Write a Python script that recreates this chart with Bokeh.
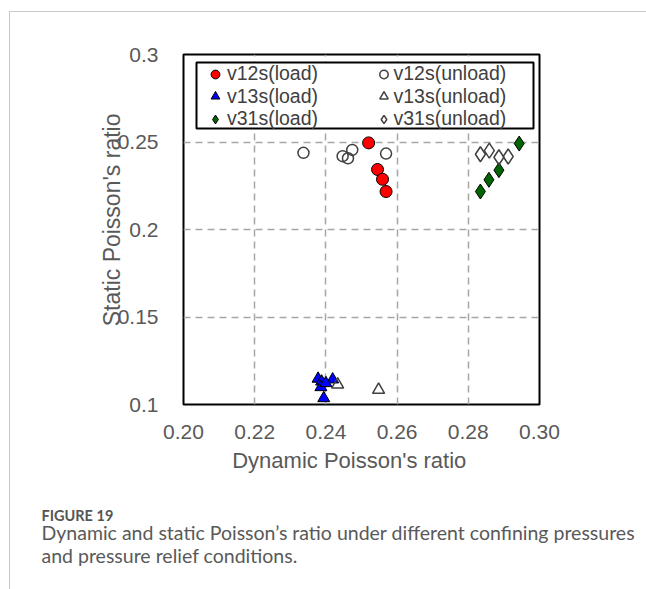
import numpy as np
from bokeh.plotting import figure
from bokeh.layouts import column
from bokeh.models import Legend, LegendItem, Title, FixedTicker, Range1d, BoxAnnotation
from bokeh.embed import file_html
from bokeh.resources import INLINE

# ---- data ----
v12_load_x = [0.2520, 0.2545, 0.2559, 0.2569]
v12_load_y = [0.2495, 0.2343, 0.2287, 0.2217]
v12_unload_x = [0.2337, 0.2447, 0.2462, 0.2474, 0.2569]
v12_unload_y = [0.2438, 0.2419, 0.2407, 0.2455, 0.2434]
v13_load_x = [0.2378, 0.2388, 0.2386, 0.2394, 0.2419, 0.2400]
v13_load_y = [0.1147, 0.1131, 0.1099, 0.1036, 0.1143, 0.1122]
v13_unload_x = [0.2433, 0.2548]
v13_unload_y = [0.1114, 0.1084]
v31_load_x = [0.2943, 0.2886, 0.2858, 0.2834]
v31_load_y = [0.2491, 0.2339, 0.2284, 0.2217]
v31_unload_x = [0.2834, 0.2859, 0.2886, 0.2912]
v31_unload_y = [0.2430, 0.2451, 0.2413, 0.2417]

x_ticks = [0.20, 0.22, 0.24, 0.26, 0.28, 0.30]
x_tick_labels = ["0.20", "0.22", "0.24", "0.26", "0.28", "0.30"]
y_ticks = [0.10, 0.15, 0.20, 0.25, 0.30]
y_tick_labels = ["0.1", "0.15", "0.2", "0.25", "0.3"]

x_title = "Dynamic Poisson's ratio"
y_title = "Static Poisson's ratio"
fig_num = "FIGURE 19"
caption_lines = ["Dynamic and static Poisson\u2019s ratio under different confining pressures",
                 "and pressure relief conditions."]

FONT = "Liberation Sans"
TXT = "#595959"
NBSP = "\u00a0"

W, H = 646, 589
OFF_X, OFF_Y = 10, 12          # card border offset (margin + 1px border)
PW, PH = W - OFF_X, H - OFF_Y
FL, FR, FT, FB = 183, 539, 54, 404   # frame edges in page pixels

p = figure(width=PW, height=PH, output_backend="svg", toolbar_location=None,
           x_range=Range1d(0.20, 0.30), y_range=Range1d(0.10, 0.30),
           min_border_left=FL - OFF_X, min_border_right=PW - (FR - OFF_X),
           min_border_top=FT - OFF_Y, min_border_bottom=(OFF_Y + PH) - FB)
p.background_fill_color = "white"
p.border_fill_color = "white"
p.outline_line_color = "black"
p.outline_line_width = 2

for ax, ticks, labels in ((p.xaxis[0], x_ticks, x_tick_labels), (p.yaxis[0], y_ticks, y_tick_labels)):
    ax.ticker = FixedTicker(ticks=ticks)
    ax.major_label_overrides = {t: l for t, l in zip(ticks, labels)}
    ax.axis_line_color = None
    ax.major_tick_line_color = None
    ax.minor_tick_line_color = None
    ax.major_label_text_font = FONT
    ax.major_label_text_font_size = "21px"
    ax.major_label_text_color = TXT
    ax.axis_label_text_font = FONT
    ax.axis_label_text_font_style = "normal"
    ax.axis_label_text_color = TXT
# non-breaking spaces nudge the titles off-centre the way the reference places them
p.xaxis.axis_label = x_title + NBSP * 4
p.yaxis.axis_label = NBSP * 3 + y_title
p.xaxis.axis_label_text_font_size = "22px"
p.yaxis.axis_label_text_font_size = "23px"
p.xaxis.major_label_standoff = 14
p.xaxis.axis_label_standoff = 6
p.yaxis.major_label_standoff = 19
p.yaxis.axis_label_standoff = -10

p.xgrid.ticker = FixedTicker(ticks=[0.22, 0.24, 0.26, 0.28])
p.ygrid.ticker = FixedTicker(ticks=[0.15, 0.20, 0.25])
for g in (p.xgrid[0], p.ygrid[0]):
    g.grid_line_color = "#a6a6a6"
    g.grid_line_dash = "7 5"
    g.grid_line_width = 1.5

r1 = p.scatter(v12_load_x, v12_load_y, marker="circle", size=12, fill_color="#ff0000", line_color="black", line_width=1)
r2 = p.scatter(v12_unload_x, v12_unload_y, marker="circle", size=11, fill_color="white", fill_alpha=0, line_color="#404040", line_width=1.5)
r3 = p.scatter(v13_load_x, v13_load_y, marker="triangle", size=12, fill_color="#0000ff", line_color="black", line_width=1)
r4 = p.scatter(v13_unload_x, v13_unload_y, marker="triangle", size=12, fill_color="white", fill_alpha=0, line_color="#404040", line_width=1.5)
r5 = p.scatter(v31_load_x, v31_load_y, marker="diamond", size=15, fill_color="#006400", line_color="black", line_width=1)
r6 = p.scatter(v31_unload_x, v31_unload_y, marker="diamond", size=15, fill_color="white", fill_alpha=0, line_color="#404040", line_width=1.5)

# legend frame (screen units relative to the plot frame)
p.add_layout(BoxAnnotation(left=196 - FL, right=533 - FL, top=FB - 62, bottom=FB - 128,
                           left_units="screen", right_units="screen", top_units="screen", bottom_units="screen",
                           fill_color="white", fill_alpha=1, line_color="black", line_alpha=1, line_width=2))

# one single-item legend per cell, so rows/columns sit where the reference has them
legend_cells = [
    ("v12s(load)", r1, 0, 0), ("v13s(load)", r3, 0, 1), ("v31s(load)", r5, 0, 2),
    ("v12s(unload)", r2, 1, 0), ("v13s(unload)", r4, 1, 1), ("v31s(unload)", r6, 1, 2),
]
row_centers = [72.5, 95.0, 117.5]
TEXT_H = 25
for label, rend, col, row in legend_cells:
    gw = 24 if col == 0 else 21
    left = (215 if col == 0 else 383) - gw / 2
    bottom = (FB - row_centers[row]) - TEXT_H / 2
    lg = Legend(items=[LegendItem(label=label, renderers=[rend])], location=(left - FL, bottom))
    lg.margin = 0
    lg.padding = 0
    lg.spacing = 0
    lg.glyph_width = gw
    lg.glyph_height = 22
    lg.label_height = 20
    lg.label_width = 20
    lg.label_standoff = -1 if col == 0 else -3
    lg.label_text_font = FONT
    lg.label_text_font_size = "19.5px"
    lg.label_text_color = "#404040"
    lg.border_line_color = None
    lg.background_fill_alpha = 0
    p.add_layout(lg)

# caption (titles stacked below the x axis)
spacer = Title(text=" ", align="left", offset=0, standoff=18, text_font="Lato", text_font_size="10px")
p.add_layout(spacer, "below")
t1 = Title(text=fig_num, align="left", offset=41 - FL, standoff=-5,
           text_font="Lato", text_font_size="14.5px", text_font_style="bold", text_color="#555555")
p.add_layout(t1, "below")
for i, line in enumerate(caption_lines):
    t = Title(text=line, align="left", offset=41 - FL, standoff=-5 if i == 0 else 0,
              text_font="Lato", text_font_size="19.5px", text_font_style="normal", text_color="#595959")
    p.add_layout(t, "below")

layout = column(p, spacing=0, margin=(11, 0, 0, 9),
                styles={"border-top": "1px solid #c8c8c8", "border-left": "1px solid #c8c8c8"})

open("out.html", "w").write(file_html(layout, INLINE))
